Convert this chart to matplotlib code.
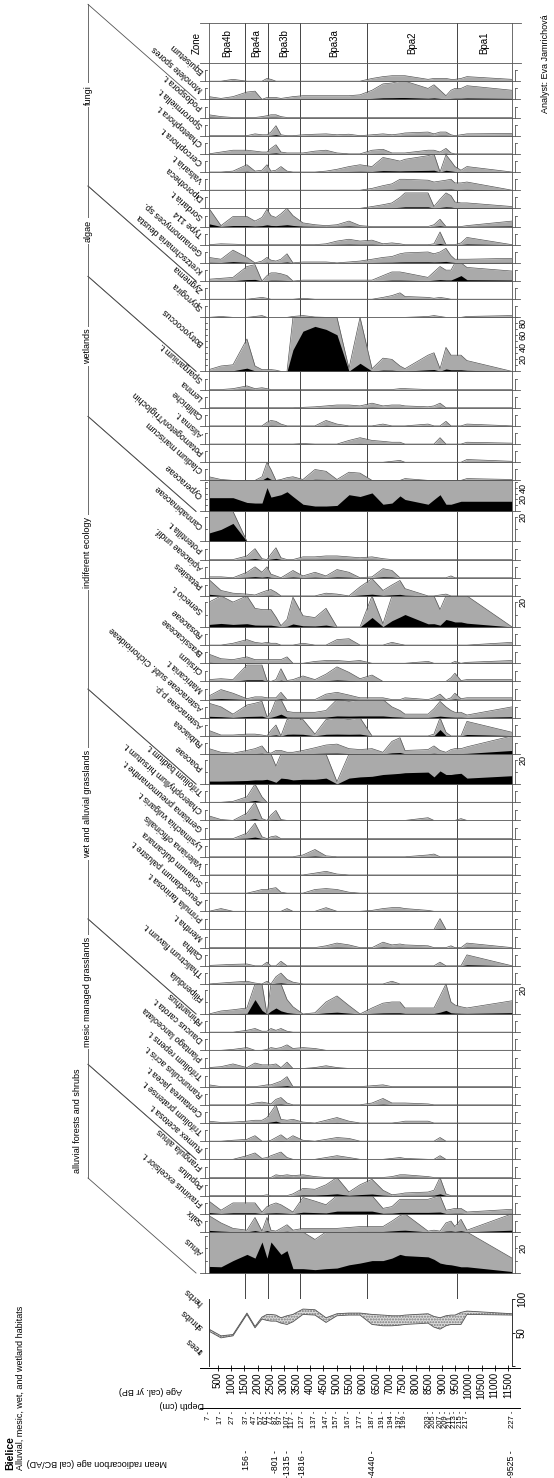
import numpy as np
import matplotlib.pyplot as plt

plt.rcParams['font.family'] = ['Liberation Sans', 'DejaVu Sans']

# ---------------- data ----------------
depths = [7, 17, 27, 37, 47, 57, 67, 77, 87, 97, 107, 117, 127, 137, 147, 157,
          167, 177, 187, 191, 194, 197, 199, 203, 205, 207, 209, 211, 213, 215, 217, 227]
ages = [160, 615, 1070, 1600, 1905, 2170, 2360, 2510, 2700, 2890, 3120, 3345, 3725, 4180, 4600, 5015,
        5470, 5890, 6345, 6760, 7100, 7405, 7595, 8470, 8695, 8925, 9150, 9340, 9490, 9720, 9945, 11655]
age_ticks = list(range(500, 12000, 500))
c14_depths = [37, 87, 107, 127, 187, 227]
c14_labels = ['156', '-801', '-1315', '-1816', '-4440', '-9525']
zone_bounds = [1525, 2380, 3625, 6170, 9575]
zone_names = ['Bpa4b', 'Bpa4a', 'Bpa3b', 'Bpa3a', 'Bpa2', 'Bpa1']

trees = [52, 42, 45, 77, 57, 70, 68, 67, 67, 64, 62, 66, 77, 76, 65, 75,
         76, 76, 62, 60, 60, 61, 62, 64, 58, 55, 60, 62, 62, 62, 77, 76]
shrubs = [3, 3, 2, 2, 2, 3, 9, 10, 9, 8, 13, 11, 8, 8, 7, 3,
          3, 3, 15, 16, 15, 14, 14, 14, 16, 17, 15, 14, 14, 18, 5, 2]

spore_taxa = ['Equisetum', 'Monolete spores']
spore_values = [
    [0, 0, 0.1, 0, 0, 0, 0.15, 0.1, 0, 0, 0, 0, 0, 0, 0, 0, 0, 0, 0.15, 0.25, 0.3, 0.3, 0.3, 0.1, 0.15, 0.15, 0.15, 0.1, 0.1, 0.15, 0.25, 0.1],
    [0.15, 0.05, 0.15, 0.4, 0.45, 0, 0.1, 0.1, 0.1, 0.05, 0.1, 0.15, 0.2, 0.2, 0.2, 0.2, 0.2, 0.25, 0.5, 0.85, 0.9, 1.0, 1.0, 0.6, 0.8, 0.5, 0.2, 0.5, 0.6, 0.6, 0.75, 0.5],
]

fungi_taxa = ['Podospora t.', 'Sporormiella t.', 'Chaetophora t.', 'Cercophora t.', 'Valsaria t.',
              'Diporotheca', 'Sordaria t.', 'Type 114', 'Genaunomyces sp.', 'Kretzschmaria deusta']
fungi_values = [
    [0.15, 0.05, 0, 0, 0, 0.05, 0.1, 0.15, 0.15, 0.05] + [0] * 22,
    [0, 0, 0, 0, 0.1, 0.05, 0.05, 0.2, 0.55, 0.05, 0, 0, 0.05, 0.08, 0.1, 0.05, 0.08, 0, 0.05, 0.1, 0.05, 0.1, 0.15, 0.2, 0.1, 0.2, 0.2, 0.05, 0, 0.05, 0.1, 0.12],
    [0, 0.1, 0.2, 0.2, 0.15, 0.1, 0.1, 0.3, 0.5, 0.1, 0.05, 0.05, 0.05, 0.15, 0.2, 0.05, 0, 0, 0.2, 0.25, 0.05, 0.05, 0.05, 0.2, 0.2, 0.1, 0.3, 0.05, 0, 0, 0, 0],
    [0, 0, 0.05, 0.4, 0.05, 0.1, 0.4, 0.05, 0.1, 0.3, 0.05, 0, 0, 0, 0.05, 0.15, 0.3, 0.4, 0.3, 0.8, 0.7, 0.6, 0.7, 0.9, 1.0, 0, 0.95, 0.6, 0.3, 0.1, 0.3, 0],
    [0] * 18 + [0.1, 0.25, 0.35, 0.6, 0.6, 0.55, 0.45, 0.5, 0.55, 0.6, 0.4, 0.4, 0.45, 0],
    [0] * 18 + [0.1, 0.2, 0.3, 0.6, 0.85, 0.85, 0.1, 0.5, 0.85, 0.7, 0.35, 0.3, 0.3, 0.1],
    [1.5, 0.05, 0.55, 0.55, 0.3, 0.5, 0.95, 0.6, 0.5, 0.7, 1.0, 0.6, 0.2, 0.1, 0.05, 0.1, 0.3, 0.05, 0, 0, 0, 0, 0, 0, 0.1, 0.4, 0, 0, 0, 0, 0.05, 0.3],
    [0, 0.05, 0.03, 0, 0, 0, 0, 0, 0, 0, 0, 0, 0, 0, 0.05, 0.2, 0.3, 0.2, 0.25, 0.05, 0.1, 0.05, 0, 0, 0.05, 0.7, 0, 0, 0, 0.1, 0.4, 0],
    [0.3, 0.2, 0.7, 0.3, 0, 0.1, 0.3, 0.15, 0.1, 0.2, 0.5, 0, 0.05, 0.05, 0.05, 0, 0.05, 0.1, 0.2, 0.3, 0.35, 0.5, 0.55, 0.6, 0.5, 0.6, 0.8, 0.4, 0.2, 0.2, 0.2, 0.25],
    [0.1, 0.15, 0.2, 0.8, 0.9, 0, 0.3, 0.45, 0.45, 0.4, 0.3, 0, 0.05, 0.05, 0.05, 0.05, 0.05, 0.05, 0.05, 0.3, 0.5, 0.5, 0.45, 0.2, 0.5, 0.8, 0.6, 0.6, 1.5, 3.0, 0.75, 0.55],
]

algae_taxa = ['Zygnema', 'Spyrogira', 'Botryococcus']
algae_values = [
    [0, 0, 0, 0, 0.05, 0.1, 0.05, 0, 0, 0, 0, 0, 0.05, 0, 0, 0, 0, 0, 0, 0.1, 0.2, 0.35, 0.15, 0.1, 0.05, 0.1, 0.05, 0, 0, 0, 0, 0],
    [0, 0.05, 0, 0, 0.05, 0.1, 0, 0, 0, 0, 0, 0.05, 0.1, 0.02, 0, 0, 0, 0, 0, 0, 0, 0, 0, 0.05, 0.1, 0.05, 0, 0, 0, 0, 0.05, 0.1],
    [0.3, 0.9, 1.1, 5.4, 0.9, 0.3, 0.3, 0.3, 0.2, 0, 0, 36, 67, 75, 70, 61, 0.5, 13.5, 0.45, 2.2, 2.0, 0.9, 0.45, 2.7, 3.1, 0.45, 4.0, 2.7, 2.7, 2.7, 1.8, 0],
]

wetland_taxa = ['Sparganium t.', 'Lemna', 'Callitriche', 'Alisma t.', 'Potamogeton/Triglochin',
                'Cladium mariscum', 'Cyperaceae']
wetland_values = [
    [0, 0, 0.05, 0.2, 0.05, 0.1, 0.05] + [0] * 14 + [0.05, 0.05] + [0] * 9,
    [0] * 12 + [0.02, 0.05, 0.1, 0.15, 0.15, 0.1, 0.25, 0.1, 0.15, 0.15, 0.1, 0.05, 0.1, 0.25, 0, 0, 0, 0, 0, 0],
    [0, 0, 0, 0, 0, 0, 0.2, 0.3, 0.25, 0.1, 0, 0, 0, 0, 0.3, 0.1, 0, 0, 0, 0.1, 0, 0, 0, 0.1, 0, 0, 0.25, 0, 0, 0, 0.1, 0],
    [0] * 12 + [0.03, 0, 0, 0, 0.2, 0.35, 0.2, 0.15, 0.1, 0.1, 0, 0, 0, 0.35, 0, 0, 0, 0, 0.1, 0.05],
    [0] * 20 + [0.05, 0.1, 0, 0, 0, 0, 0, 0, 0, 0, 0.15, 0.05],
    [0.2, 0.05, 0, 0, 0, 0.2, 1.8, 0.6, 0, 0.05, 0.15, 0.2, 0.05, 0.6, 0.5, 0.05, 0.45, 0.4, 0, 0, 0, 0, 0.1, 0, 0, 0, 0, 0, 0, 0, 0.1, 0.05],
    [23, 23, 23, 15, 14, 14, 40, 24, 26, 28, 33, 25, 12, 9, 9, 10, 28, 25, 31, 12, 14, 26, 20, 12, 20, 28, 12, 12, 14, 17, 17, 17],
]

indif_taxa = ['Cannabinaceae', 'Potentilla t.', 'Apiaceae undif.', 'Petasites', 'Senecio t.',
              'Rosaceae', 'Brassicaceae', 'Cirsium', 'Matricaria t.', 'Asteraceae subf. Cichorioideae',
              'Asteraceae p.p.', 'Rubiacea', 'Poaceae']
indif_values = [
    [7, 10, 15] + [0] * 29,
    [0, 0, 0, 0.2, 0.6, 0.05, 0, 0.3, 0.65, 0.1, 0, 0, 0.15, 0.15, 0.2, 0.2, 0.15, 0.1, 0.15, 0.05] + [0] * 12,
    [0.05, 0.05, 0, 0.3, 0.6, 0.3, 0.6, 0.2, 0.1, 0, 0.2, 0.4, 0.1, 0.3, 0.1, 0.45, 0.3, 0, 0.05, 0.5, 0.4, 0, 0, 0, 0, 0, 0, 0.1, 0, 0, 0, 0],
    [0.9, 0.3, 0.15, 0.1, 0.05, 0.2, 0.3, 0.35, 0.2, 0, 0, 0, 0, 0, 0.15, 0.1, 0, 0.5, 0.95, 0.3, 0.6, 0.85, 0.4, 0, 0, 0.05, 0.1, 0, 0, 0, 0, 0],
    [2.0, 2.8, 2.0, 2.6, 1.5, 1.4, 1.4, 1.4, 0.8, 0.1, 0.6, 2.4, 0.9, 0.75, 1.5, 0, 0, 0, 7.6, 0.25, 5, 8, 10, 2.5, 2.6, 1.4, 6, 5, 4, 4, 3, 0],
    [0, 0, 0.1, 0.3, 0.15, 0.1, 0.15, 0.1, 0.1, 0, 0, 0, 0.1, 0, 0, 0.3, 0.35, 0, 0, 0, 0.15, 0.05, 0, 0, 0, 0, 0, 0, 0, 0, 0, 0.15],
    [0.5, 0.25, 0.2, 0.35, 0.2, 0.2, 0.2, 0.2, 0.2, 0.2, 0.35, 0, 0, 0.1, 0.15, 0.15, 0.1, 0.15, 0, 0, 0, 0, 0, 0.1, 0, 0, 0, 0, 0.1, 0, 0.05, 0.15],
    [0.1, 0.15, 0.1, 0.9, 0.9, 0.9, 0.05, 0, 0.1, 0.7, 0.05, 0.1, 0.3, 0.1, 0.4, 0.8, 0.5, 0.15, 0.35, 0, 0, 0, 0, 0, 0, 0, 0, 0.2, 0.45, 0.05, 0.1, 0.1],
    [0.2, 0.55, 0.35, 0.05, 0.15, 0.15, 0.1, 0.1, 0.1, 0.4, 0, 0, 0, 0, 0.3, 0.4, 0.25, 0.1, 0.1, 0.1, 0, 0, 0.1, 0, 0.1, 0.3, 0, 0.1, 0.35, 0.05, 0.1, 0.1],
    [0.8, 0.6, 0.2, 0.7, 0.8, 0.9, 0.05, 0.3, 1.0, 2.0, 0.35, 0.3, 0.3, 0.3, 0.4, 1.0, 0.9, 1.0, 1.0, 1.0, 0.6, 0.4, 0.2, 0.2, 0.5, 0.9, 0.6, 0.4, 0.3, 0.3, 0.15, 0.6],
    [0.3, 0.05, 0.05, 0.1, 0.1, 0.05, 0, 0.3, 0.6, 0, 0.9, 1.0, 0.9, 0.1, 0.9, 1.0, 0.9, 1.0, 0, 0, 0, 0, 0, 0, 0.1, 3.5, 0.2, 0, 0, 0, 0.8, 0.2],
    [0.3, 0.1, 0.05, 0.2, 0.3, 0.45, 0.1, 0.05, 0.2, 0.2, 0.1, 0.1, 0.2, 0.35, 0.5, 0.55, 0.3, 0.25, 0.3, 0.1, 0.7, 0.9, 0.2, 0.25, 0.45, 0.2, 0.1, 0.25, 0.3, 0.3, 0.4, 2.0],
    [2.5, 2.5, 2.7, 3, 3.5, 3.5, 4, 3, 1.5, 5, 4.5, 3.5, 4, 4, 5, 0.2, 5, 6, 6.5, 8, 8.5, 9, 9.5, 10, 6, 11, 8, 8, 8.5, 9, 5, 7],
]

wet_taxa = ['Trifolium badium t.', 'Chaerophyllum hirsutum t.', 'Gentiana pneumonanthe t.',
            'Lysimachia vulgaris t.', 'Valeriana officinalis', 'Solanum dulcamara',
            'Peucedanum palustre t.', 'Primula farinosa t.', 'Mentha t.', 'Caltha',
            'Thalictrum flavum t.', 'Filipendula']
wet_values = [
    [0, 0, 0.05, 0.3, 1.0, 0.3] + [0] * 26,
    [0.25, 0.05, 0, 0.4, 1.0, 0.1, 0, 0.3, 0.55, 0.05] + [0] * 13 + [0.15] + [0] * 5 + [0.1, 0, 0],
    [0, 0, 0, 0.3, 0.85, 0.1, 0, 0.1, 0.15] + [0] * 23,
    [0] * 12 + [0.1, 0.4, 0.05] + [0] * 8 + [0.1, 0.15] + [0] * 7,
    [0] * 13 + [0.1, 0.2, 0.05] + [0] * 16,
    [0, 0, 0, 0, 0.1, 0.2, 0.2, 0.25, 0.3, 0.05, 0, 0, 0, 0.2, 0.25, 0.2, 0.05] + [0] * 15,
    [0, 0.15, 0, 0, 0, 0, 0, 0, 0, 0, 0.15, 0, 0, 0, 0.2, 0, 0, 0, 0.05, 0.15, 0.2, 0.2, 0.15, 0.05] + [0] * 8,
    [0] * 25 + [0.6] + [0] * 6,
    [0] * 14 + [0.1, 0.25, 0.15, 0, 0, 0.3, 0.15, 0.2, 0.15, 0.1, 0, 0, 0, 0.1, 0, 0, 0.25, 0],
    [0.02, 0.05, 0.08, 0.1, 0, 0, 0.2, 0, 0, 0.25] + [0] * 15 + [0.2] + [0] * 4 + [0.6, 0],
    [0, 0.05, 0.1, 0.15, 0.05, 0, 0.15, 0, 0.4, 0.6, 0.25, 0.1, 0, 0, 0, 0, 0, 0, 0, 0, 0.15] + [0] * 11,
    [0, 0.25, 0.35, 0.5, 12, 3, 0, 2.5, 5, 2.6, 1.2, 0.6, 0, 0.1, 1.0, 1.5, 0.7, 0, 0.5, 0.9, 1.0, 1.0, 0.5, 0.5, 0.5, 1.5, 3.0, 1.0, 0.75, 0.6, 0.5, 1.1],
]

mesic_taxa = ['Rhinanthus', 'Daucus carota t.', 'Plantago lanceolata', 'Trifolium repens t.',
              'Ranunculus acris t.', 'Centaurea jacea t.', 'Trifolium pratense t.', 'Rumex acetosa t.']
mesic_values = [
    [0, 0, 0, 0.1, 0.2, 0.05, 0.05, 0.2, 0.1, 0.2, 0.05] + [0] * 21,
    [0, 0, 0.05, 0.15, 0, 0, 0.05, 0.15, 0.1, 0.15, 0.3, 0.1, 0.15, 0.1] + [0] * 18,
    [0.05, 0.1, 0.25, 0.05, 0.3, 0.2, 0.2, 0.2, 0.25, 0.05, 0.35, 0, 0, 0.05, 0.15, 0.05] + [0] * 16,
    [0.1, 0, 0, 0, 0, 0.05, 0.1, 0.1, 0.2, 0.3, 0.55, 0, 0, 0, 0, 0, 0, 0, 0.05, 0.1] + [0] * 12,
    [0, 0, 0, 0, 0.1, 0.15, 0.1, 0.05, 0.3, 0.4, 0.1, 0, 0, 0, 0, 0, 0, 0, 0.1, 0.35, 0.1, 0.1, 0.1, 0.05] + [0] * 8,
    [0.1, 0.03, 0.05, 0.1, 0.15, 0.15, 0.3, 0.6, 1.0, 0.2, 0.15, 0.2, 0.05, 0, 0.15, 0.3, 0.1, 0, 0, 0, 0, 0.05, 0.1, 0.1] + [0] * 8,
    [0, 0, 0.05, 0.1, 0.3, 0, 0, 0.05, 0.2, 0.35, 0.1, 0.3, 0.05, 0, 0.1, 0.2, 0.15] + [0] * 8 + [0.2] + [0] * 6,
    [0, 0, 0, 0.2, 0.35, 0.05, 0.1, 0.2, 0.3, 0.4, 0.1, 0, 0, 0, 0.1, 0.2, 0.1, 0, 0, 0, 0.05, 0.1, 0.05, 0, 0, 0.2] + [0] * 6,
]

forest_taxa = ['Frangula alnus', 'Populus', 'Fraxinus excelsior t.', 'Salix', 'Alnus']
forest_values = [
    [0, 0, 0, 0, 0, 0, 0, 0, 0.15, 0.1, 0.15, 0.1, 0.15, 0.05, 0, 0, 0, 0, 0, 0, 0.05, 0.15, 0.15, 0.05] + [0] * 8,
    [0, 0, 0, 0, 0, 0, 0.05, 0, 0, 0, 0, 0.1, 0.4, 0.35, 0.6, 1.0, 0.2, 0.6, 0.9, 0.3, 0.05, 0.1, 0.15, 0.2, 0.3, 1.0, 0.1, 0, 0, 0, 0, 0],
    [0.7, 0.2, 0.6, 0.6, 0.6, 0.1, 0.4, 0.5, 0.6, 0.5, 0.3, 0.1, 0.9, 0.7, 0.5, 1.5, 1.5, 1.5, 1.5, 0.3, 0.4, 0.8, 0.8, 0.8, 0.9, 1.0, 0.2, 0.25, 0.3, 0.3, 0.1, 0.25],
    [0.9, 0.5, 0.2, 0.1, 0.8, 0.05, 0.8, 0.1, 0.05, 0.2, 0.4, 0.1, 0.2, 0.2, 0.2, 0.2, 0.25, 0.3, 0.3, 0.3, 0.6, 0.9, 1.0, 0.05, 0.1, 0.05, 0.5, 0.6, 0.3, 0.7, 0.1, 1.0],
    [5.3, 5, 10, 15, 12, 25, 12, 25, 20, 15, 18, 3.5, 3.5, 2.7, 3.5, 4, 6.6, 8, 10, 10, 12, 15, 14, 13, 11, 8, 7, 6.6, 6, 5, 5, 1.2],
]

groups = [
    (None, spore_taxa, spore_values),
    ('fungi', fungi_taxa, fungi_values),
    ('algae', algae_taxa, algae_values),
    ('wetlands', wetland_taxa, wetland_values),
    ('indiferent ecology', indif_taxa, indif_values),
    ('wet and alluvial grasslands', wet_taxa, wet_values),
    ('mesic managed grasslands', mesic_taxa, mesic_values),
    ('alluvial forests and shrubs', forest_taxa, forest_values),
]

# ---------------- layout ----------------
W, H = 554, 1478
X0, X1 = 209, 512
EXAG = 10
SMALL = (18.17, 10)
big = {'Botryococcus': (54, 90), 'Cyperaceae': (31, 52), 'Cannabinaceae': (30, 25),
       'Senecio t.': (31, 25), 'Poaceae': (30, 25), 'Filipendula': (30, 25), 'Alnus': (41, 33)}
GREY = '#aaaaaa'
LINE = '#555555'
ANG = 138.7

fig = plt.figure(figsize=(W / 100, H / 100), dpi=100)


def box(x0, y0, x1, y1):
    # pixel rectangle (y downward) -> figure fraction
    return [x0 / W, 1 - y1 / H, (x1 - x0) / W, (y1 - y0) / H]


def wide_axis(y):
    # thin axes from 200 to 520 px sharing the age scale of the strips
    ax = fig.add_axes(box(200, y - 1, 520, y))
    k = (ages[-1] - ages[0]) / (X1 - X0)
    ax.set_xlim(ages[0] - (X0 - 200) * k, ages[-1] + (520 - X1) * k)
    ax.set_yticks([])
    for s in ['top', 'left', 'right']:
        ax.spines[s].set_visible(False)
    ax.patch.set_visible(False)
    return ax


# zone lines behind everything
bg = fig.add_axes(box(X0, 23, X1, 1300))
bg.set_xlim(ages[0], ages[-1])
bg.axis('off')
for b in zone_bounds:
    bg.axvline(b, color='#444444', lw=0.7)

# zone header
hd = fig.add_axes(box(X0, 23, X1, 63))
hd.set_xlim(ages[0], ages[-1])
hd.set_ylim(0, 1)
hd.axis('off')
edges = [ages[0]] + zone_bounds + [ages[-1]]
for name, a, b in zip(zone_names, edges[:-1], edges[1:]):
    hd.text((a + b) / 2, 0.5, name, rotation=90, ha='center', va='center', fontsize=7)


def scale_marks(ax, top):
    tr = ax.get_yaxis_transform()
    kw = dict(transform=tr, clip_on=False, color=LINE, lw=0.6)
    levels = [6] if top <= 10 else list(range(10, int(top) + 1, 10))
    for xa in (-0.012, 1.01):
        ax.plot([xa, xa], [0, levels[-1]], **kw)
        for lv in levels:
            ax.plot([xa, xa + 0.006], [lv, lv], **kw)
    if top > 10:
        for lv in levels:
            if lv % 20 == 0:
                ax.text(1.022, lv, str(lv), transform=tr, rotation=90,
                        ha='left', va='center', fontsize=6.5)


rows = []
spans = []
y = 63.0
for gname, names, values in groups:
    g_top = y
    for name, vals in zip(names, values):
        h, top = big.get(name, SMALL)
        ax = fig.add_axes(box(X0, y, X1, y + h))
        ax.patch.set_visible(False)
        v = np.array(vals, dtype=float)
        g = np.minimum(v * EXAG, top)
        ax.fill_between(ages, 0, g, color=GREY, lw=0)
        ax.plot(ages, g, color=LINE, lw=0.5)
        ax.fill_between(ages, 0, np.minimum(v, top), color='black', lw=0)
        ax.set_xlim(ages[0], ages[-1])
        ax.set_ylim(0, top)
        ax.axis('off')
        scale_marks(ax, top)
        rows.append((name, y, y + h))
        y += h
    spans.append((gname, g_top, y))
strip_bottom = y

# summary diagram
sm = fig.add_axes(box(X0, 1299, X1, 1366))
upper = np.array(trees) + np.array(shrubs)
sm.fill_between(ages, trees, upper, facecolor='#dcdcdc', edgecolor='#7a7a7a', hatch='......', lw=0)
sm.plot(ages, trees, color=LINE, lw=0.6)
sm.plot(ages, upper, color=LINE, lw=0.6)
sm.set_xlim(ages[0], ages[-1])
sm.set_ylim(0, 100)
sm.spines['top'].set_visible(False)
sm.spines['bottom'].set_visible(False)
for s in ['left', 'right']:
    sm.spines[s].set_linewidth(0.7)
    sm.spines[s].set_color('#333333')
sm.set_xticks([])
sm.yaxis.tick_right()
sm.set_yticks([0, 50, 100], ['', '50', '100'])
sm.tick_params(axis='y', length=2.5, width=0.6, labelsize=7, labelrotation=90, pad=1)
for lab in sm.get_yticklabels():
    lab.set_va('center')

# age axis
aax = wide_axis(1368)
aax.set_xticks(age_ticks, [str(a) for a in age_ticks])
aax.tick_params(axis='x', direction='inout', length=4, width=0.6, labelsize=7, labelrotation=90, pad=1)
aax.spines['bottom'].set_linewidth(0.7)

# depth axis
dax = wide_axis(1408)
dax.set_xticks(ages, [f'{d} -' for d in depths])
dax.tick_params(axis='x', length=0, labelsize=5.5, labelrotation=90, pad=2)
dax.spines['bottom'].set_linewidth(0.7)

# radiocarbon ages
cax = wide_axis(1450)
cax.spines['bottom'].set_visible(False)
cax.set_xticks(np.interp(c14_depths, depths, ages), [f'{c} -' for c in c14_labels])
cax.tick_params(axis='x', length=0, labelsize=6.3, labelrotation=90, pad=0)

# overlay in pixel coordinates for frame, labels and group brackets
ov = fig.add_axes([0, 0, 1, 1])
ov.set_xlim(0, W)
ov.set_ylim(H, 0)
ov.axis('off')
lk = dict(color='#555555', lw=0.6)
ov.plot([200, 521], [23, 23], **lk)
ov.plot([200, 521], [63, 63], **lk)
ov.plot([X0, X0], [23, strip_bottom], **lk)
ov.plot([X1, X1], [23, strip_bottom], **lk)
ov.text(197, 43, 'Zone', rotation=90, ha='center', va='center', fontsize=7)

for name, top, bot in rows:
    ov.plot([200, 520], [bot, bot], **lk)
    ov.text(202, (top + bot) / 2, name, rotation=ANG, rotation_mode='anchor',
            ha='left', va='center', fontsize=6.3)

for lab, yy in [('trees', 1352), ('shrubs', 1328), ('herbs', 1304)]:
    ov.text(202, yy, lab, rotation=ANG, rotation_mode='anchor', ha='left', va='center', fontsize=6.3)

D = 95
for gname, gt, gb in spans:
    if gname is None:
        continue
    ov.plot([88, 196], [gt - D, gt], **lk)
    ov.plot([88, 196], [gb - D, gb], **lk)
    ov.plot([88, 88], [gt - D, gb - D], **lk)
    mid = (gt + gb) / 2 - D
    if gname == 'alluvial forests and shrubs':
        ov.text(78, mid, gname, rotation=90, ha='center', va='center', fontsize=6.5)
    else:
        ov.text(88, mid, gname, rotation=90, ha='center', va='center', fontsize=6.5,
                bbox=dict(fc='white', ec='none', pad=1.5))

ov.text(10, 1470, 'Bielice', rotation=90, rotation_mode='anchor', ha='left', va='center',
        fontsize=7.5, fontweight='bold')
ov.text(20, 1470, 'Alluvial, mesic, wet, and wetland habitats', rotation=90,
        rotation_mode='anchor', ha='left', va='center', fontsize=6.5)
ov.text(545, 14, 'Analyst: Eva Jamrichová', rotation=90, rotation_mode='anchor',
        ha='right', va='center', fontsize=6.5)
ov.text(150, 1391, 'Age (cal. yr BP)', rotation=180, ha='center', va='center', fontsize=6.5)
ov.text(182, 1404, 'Depth (cm)', rotation=180, ha='center', va='center', fontsize=6.5)
ov.text(97, 1463, 'Mean radiocarbon age (cal BC/AD)', rotation=180, ha='center', va='center', fontsize=6.5)

fig.savefig('out.png', dpi=100)
